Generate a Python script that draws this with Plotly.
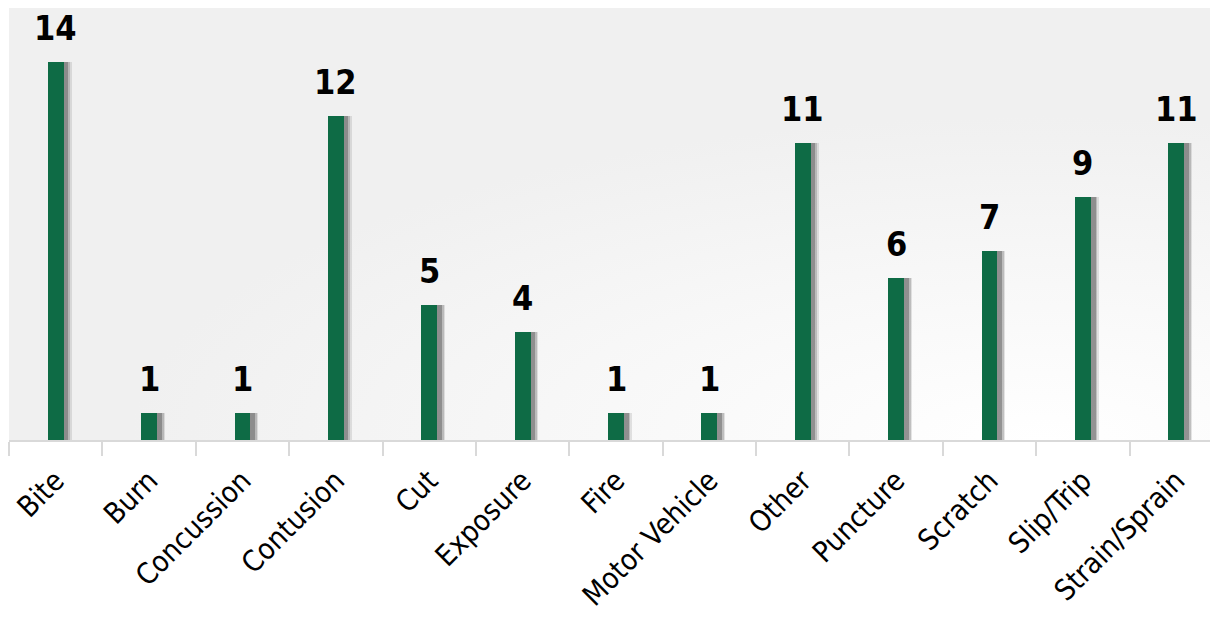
import plotly.graph_objects as go
import base64

categories = ["Bite", "Burn", "Concussion", "Contusion", "Cut", "Exposure", "Fire",
              "Motor Vehicle", "Other", "Puncture", "Scratch", "Slip/Trip", "Strain/Sprain"]
values = [14, 1, 1, 12, 5, 4, 1, 1, 11, 6, 7, 9, 11]

bar_color = "#0e6b45"
label_font = "DejaVu Sans Condensed, Liberation Sans Narrow, sans-serif"

svg = """<svg xmlns='http://www.w3.org/2000/svg' width='1000' height='400' preserveAspectRatio='none'>
<defs><radialGradient id='g' cx='0.85' cy='1.0' r='0.75' gradientUnits='objectBoundingBox'>
<stop offset='0' stop-color='#ffffff'/><stop offset='0.55' stop-color='#f7f7f7'/><stop offset='1' stop-color='#f0f0f0'/>
</radialGradient></defs><rect width='1000' height='400' fill='url(#g)'/></svg>"""
bg_uri = "data:image/svg+xml;base64," + base64.b64encode(svg.encode()).decode()

fig = go.Figure()
# soft shadows
for dx, op in [(0.085, 0.12), (0.07, 0.2), (0.05, 0.32)]:
    fig.add_trace(go.Bar(x=categories, y=values, width=0.17, offset=-0.085 + dx,
                         marker=dict(color=f"rgba(50,50,50,{op})", line=dict(width=0)),
                         hoverinfo="skip", showlegend=False))
fig.add_trace(go.Bar(x=categories, y=values, width=0.17, offset=-0.085,
                     marker=dict(color=bar_color, line=dict(width=0)), showlegend=False))

for c, v in zip(categories, values):
    fig.add_annotation(x=c, y=v, text=f"<b>{v}</b>", showarrow=False, yanchor="bottom",
                       yshift=12, font=dict(family=label_font, size=34, color="black"))

fig.update_layout(
    width=1218, height=617,
    margin=dict(l=1, r=3, t=0, b=185),
    paper_bgcolor="white", plot_bgcolor="#f0f0f0",
    barmode="overlay", bargap=0,
    images=[dict(source=bg_uri, xref="paper", yref="paper", x=0, y=1, sizex=1, sizey=1,
                 sizing="stretch", layer="below", xanchor="left", yanchor="top")],
    xaxis=dict(type="category", range=[-0.5, 12.5], tickangle=-45, tickson="boundaries",
               ticks="outside", ticklen=14, tickcolor="#d9d9d9", tickwidth=2,
               ticklabelstandoff=10,
               showline=True, linecolor="#d9d9d9", linewidth=2, showgrid=False,
               tickfont=dict(family=label_font, size=29, color="black")),
    yaxis=dict(range=[0, 16], visible=False, showgrid=False, zeroline=False),
)
fig.write_html("out.html")
